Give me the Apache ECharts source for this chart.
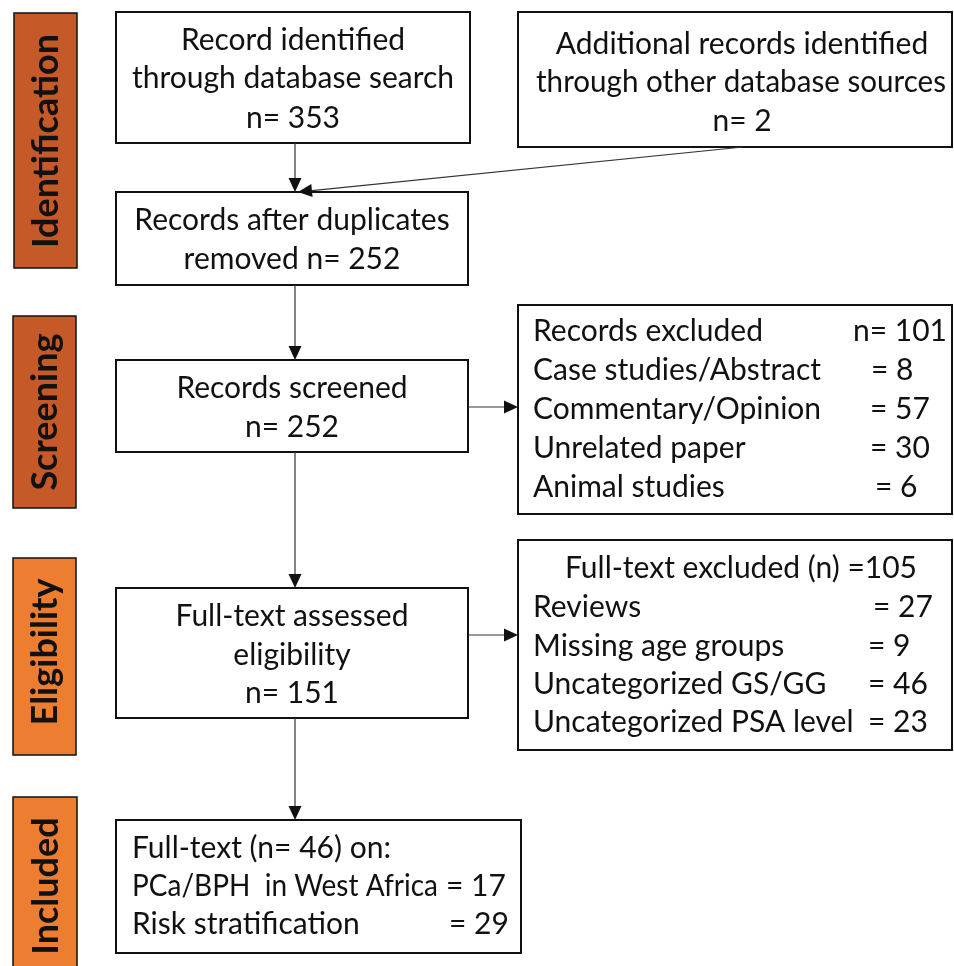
<!DOCTYPE html>
<html>
<head>
<meta charset="utf-8">
<script src="https://cdn.jsdelivr.net/npm/echarts@6/dist/echarts.min.js"></script>
<style>html,body{margin:0;padding:0;background:#fff}#c{width:954px;height:966px}</style>
</head>
<body>
<div id="c"></div>
<script>
// ---- data ----
const stages = ['Identification', 'Screening', 'Eligibility', 'Included'];
const databaseRecords = 353;
const otherSourceRecords = 2;
const afterDuplicates = 252;
const screenedRecords = 252;
const screenExcludedTotal = 101;
const screenExclusionReasons = ['Case studies/Abstract', 'Commentary/Opinion', 'Unrelated paper', 'Animal studies'];
const screenExclusionCounts = [8, 57, 30, 6];
const assessedRecords = 151;
const fullTextExcludedTotal = 105;
const fullTextExclusionReasons = ['Reviews', 'Missing age groups', 'Uncategorized GS/GG', 'Uncategorized PSA level'];
const fullTextExclusionCounts = [27, 9, 46, 23];
const includedTotal = 46;
const includedGroups = ['PCa/BPH  in West Africa', 'Risk stratification'];
const includedCounts = [17, 29];

// ---- layout ----
const FONT = 'Lato, Carlito, "Open Sans", sans-serif';
const FS = 30;
const stageBoxes = [
  {x: 14, y: 13, w: 63, h: 255, color: '#C55A28', cy: 141},
  {x: 13, y: 316, w: 63, h: 192, color: '#C55A28', cy: 412},
  {x: 13, y: 558, w: 63, h: 197, color: '#ED7D31', cy: 652},
  {x: 13, y: 797, w: 64, h: 180, color: '#ED7D31', cy: 886}
];
const boxes = {
  b1: {x: 116, y: 12, w: 354, h: 131},
  b2: {x: 518, y: 12, w: 434, h: 135},
  b3: {x: 116, y: 192, w: 352, h: 93},
  b4: {x: 116, y: 360, w: 352, h: 92},
  b5: {x: 518, y: 305, w: 434, h: 209},
  b6: {x: 116, y: 588, w: 352, h: 130},
  b7: {x: 518, y: 540, w: 434, h: 210},
  b8: {x: 116, y: 820, w: 405, h: 133}
};

const measureCtx = document.createElement('canvas').getContext('2d');
function textWidth(s, font) { measureCtx.font = font; return measureCtx.measureText(s).width; }

const g = [];
function rect(b, fill, lw) {
  g.push({type: 'rect', shape: {x: b.x, y: b.y, width: b.w, height: b.h},
    style: {fill: fill || '#fff', stroke: '#111', lineWidth: lw || 2}, z: 1});
}
function txt(s, x, y, align, maxW) {
  const font = FS + 'px ' + FONT;
  const el = {type: 'text', x: x, y: y, z: 5,
    style: {text: s, font: font, fill: '#111', align: align || 'left', verticalAlign: 'middle'}};
  if (maxW) {
    const w = textWidth(s, font);
    if (w > maxW) el.scaleX = maxW / w;
  }
  g.push(el);
}
function arrow(x1, y1, x2, y2) {
  const dx = x2 - x1, dy = y2 - y1, L = Math.sqrt(dx * dx + dy * dy);
  const ux = dx / L, uy = dy / L, hl = 14, hw = 6.5;
  const bx = x2 - ux * hl, by = y2 - uy * hl;
  g.push({type: 'line', shape: {x1: x1, y1: y1, x2: bx, y2: by}, style: {stroke: '#333', lineWidth: 1.2}, z: 3});
  g.push({type: 'polygon', shape: {points: [[x2, y2], [bx - uy * hw, by + ux * hw], [bx + uy * hw, by - ux * hw]]},
    style: {fill: '#111'}, z: 3});
}

// stage labels
stages.forEach(function (s, i) {
  const b = stageBoxes[i];
  rect(b, b.color, 1.5);
  g.push({type: 'text', x: b.x + b.w / 2 + 1, y: b.cy, rotation: Math.PI / 2, z: 5,
    style: {text: s, font: 'bold 36px ' + FONT, fill: '#111', align: 'center', verticalAlign: 'middle'}});
});

Object.keys(boxes).forEach(function (k) { rect(boxes[k]); });

// box 1
txt('Record identified', 293, 40, 'center');
txt('through database search', 293, 78, 'center');
txt('n= ' + databaseRecords, 293, 118, 'center');
// box 2
txt('Additional records identified', 742, 44, 'center');
txt('through other database sources', 741, 82, 'center', 410);
txt('n= ' + otherSourceRecords, 742, 121, 'center');
// box 3
txt('Records after duplicates', 292, 220, 'center');
txt('removed n= ' + afterDuplicates, 292, 259, 'center');
// box 4
txt('Records screened', 292, 388, 'center');
txt('n= ' + screenedRecords, 292, 427, 'center');
// box 5
const b5rows = [331, 370, 409, 448, 487];
const b5valX = [871, 870, 870, 875];
txt('Records excluded', 533, b5rows[0]);
txt('n= ' + screenExcludedTotal, 853, b5rows[0]);
screenExclusionReasons.forEach(function (r, i) {
  txt(r, 533, b5rows[i + 1]);
  txt('= ' + screenExclusionCounts[i], b5valX[i], b5rows[i + 1]);
});
// box 6
txt('Full-text assessed', 292, 616, 'center');
txt('eligibility', 292, 655, 'center');
txt('n= ' + assessedRecords, 292, 693, 'center');
// box 7
const b7rows = [568, 607, 646, 684, 722];
const b7valX = [873, 868, 868, 868];
txt('Full-text excluded (n) =' + fullTextExcludedTotal, 741, b7rows[0], 'center');
fullTextExclusionReasons.forEach(function (r, i) {
  txt(r, 533, b7rows[i + 1]);
  txt('= ' + fullTextExclusionCounts[i], b7valX[i], b7rows[i + 1]);
});
// box 8
const b8rows = [848, 886, 924];
const b8valX = [446, 449];
txt('Full-text (n= ' + includedTotal + ') on:', 132, b8rows[0]);
includedGroups.forEach(function (r, i) {
  txt(r, 132, b8rows[i + 1], 'left', 306);
  txt('= ' + includedCounts[i], b8valX[i], b8rows[i + 1]);
});

// arrows
arrow(295, 143, 295, 192);
arrow(743, 147, 298, 192);
arrow(295, 285, 295, 360);
arrow(468, 407, 518, 407);
arrow(295, 452, 295, 588);
arrow(468, 635, 518, 635);
arrow(295, 718, 295, 820);

const chart = echarts.init(document.getElementById('c'), null, {renderer: 'canvas'});
chart.setOption({
  backgroundColor: '#fff',
  animation: false,
  graphic: {elements: g}
});
</script>
</body>
</html>
